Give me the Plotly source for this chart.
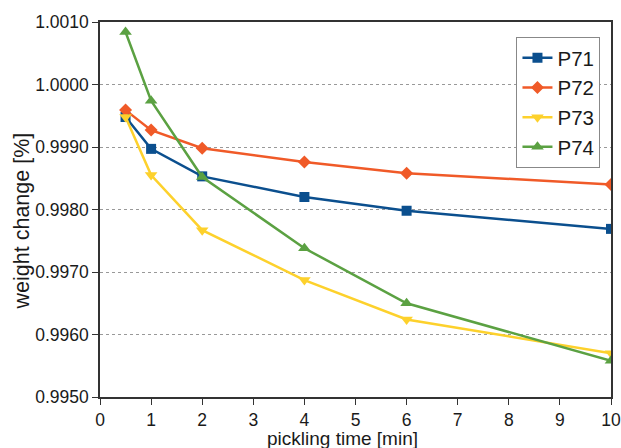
import plotly.graph_objects as go

time_min = [0.5, 1, 2, 4, 6, 10]
p71 = [0.99948, 0.99897, 0.99853, 0.99820, 0.99798, 0.99769]
p72 = [0.99959, 0.99927, 0.99898, 0.99876, 0.99858, 0.99840]
p73 = [0.99948, 0.99855, 0.99767, 0.99687, 0.99624, 0.99570]
p74 = [1.00084, 0.99974, 0.99852, 0.99738, 0.99650, 0.99558]

x_title = "pickling time [min]"
y_title = "weight change [%]"

series = [
    ("P71", p71, "#0b4f8e", "square", 10),
    ("P72", p72, "#f05a28", "diamond", 10),
    ("P73", p73, "#fdd12c", "triangle-down", 11),
    ("P74", p74, "#5ba142", "triangle-up", 11),
]

fig = go.Figure()
for name, vals, color, sym, sz in series:
    fig.add_trace(go.Scatter(
        x=time_min, y=vals, name=name, mode="lines+markers",
        line=dict(color=color, width=2.5),
        marker=dict(symbol=sym, size=sz, color=color),
    ))

fig.update_layout(
    width=621, height=448,
    margin=dict(l=100, r=10, t=22, b=51),
    paper_bgcolor="white", plot_bgcolor="white",
    font=dict(family="Liberation Sans, Arial", size=17.5, color="#1a1a1a"),
    legend=dict(
        x=0.815, y=0.96, xanchor="left", yanchor="top",
        bordercolor="#888", borderwidth=1, bgcolor="white",
        font=dict(size=20.5), itemwidth=30, tracegroupgap=0,
    ),
    showlegend=True,
    annotations=[
        dict(text=x_title, xref="paper", yref="paper", x=0.474, y=-0.11,
             xanchor="center", yanchor="middle", showarrow=False,
             font=dict(size=19)),
        dict(text=y_title, xref="paper", yref="paper", x=-0.152, y=0.469,
             xanchor="center", yanchor="middle", showarrow=False,
             textangle=-90, font=dict(size=21.5)),
    ],
)
fig.update_xaxes(
    range=[0, 10], dtick=1, tick0=0, automargin=False,
    showline=True, linecolor="#333", linewidth=1.5, mirror=True,
    ticks="outside", ticklen=6, tickcolor="#333",
    showgrid=False, zeroline=False,
)
fig.update_yaxes(
    range=[0.9950, 1.0010], dtick=0.001, tick0=0.9950, tickformat=".4f",
    automargin=False,
    showline=True, linecolor="#333", linewidth=1.5, mirror=True,
    ticks="outside", ticklen=6, tickcolor="#333",
    showgrid=True, gridcolor="#999", griddash="dot", gridwidth=1,
    zeroline=False,
)

fig.write_html("out.html")
